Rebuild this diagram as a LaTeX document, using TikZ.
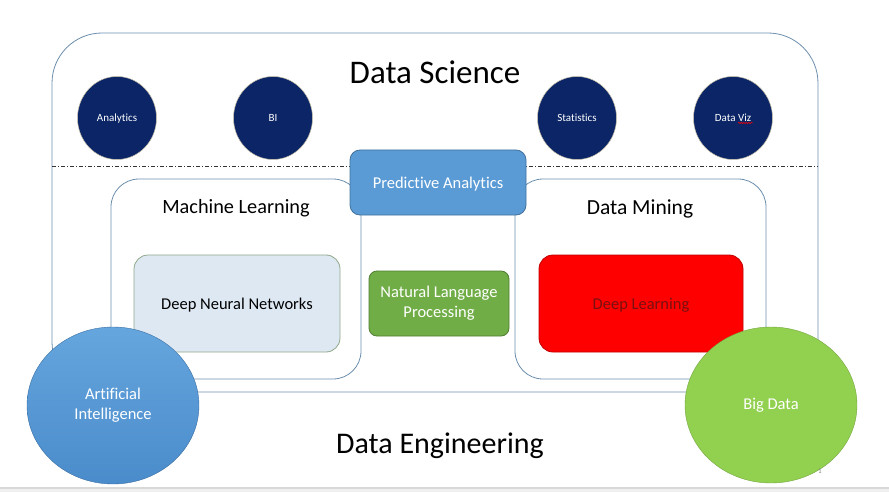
\documentclass[tikz,border=0pt]{standalone}
\usepackage{fontspec}
\setmainfont{Carlito}[Ligatures=CommonOff]
\usetikzlibrary{shapes.geometric,decorations.pathmorphing}
\definecolor{frameline}{HTML}{6C8EAD}
\definecolor{navy}     {HTML}{0B2566}
\definecolor{navyrim}  {HTML}{C8C0A6}
\definecolor{paFill}   {HTML}{5B9BD5}
\definecolor{paLine}   {HTML}{41719C}
\definecolor{nlpFill}  {HTML}{70AD47}
\definecolor{nlpLine}  {HTML}{507E32}
\definecolor{dnnFill}  {HTML}{DEE8F3}
\definecolor{dnnLine}  {HTML}{8FA88A}
\definecolor{dlFill}   {HTML}{FF0000}
\definecolor{dlLine}   {HTML}{C00000}
\definecolor{dlText}   {HTML}{7A1010}
\definecolor{aiTop}    {HTML}{65A6DE}
\definecolor{aiBot}    {HTML}{4A8BCB}
\definecolor{bigFill}  {HTML}{92D050}
\definecolor{slidegray}{HTML}{F0F0F0}
\definecolor{slideedge}{HTML}{D8D8D8}
\tikzset{
  area/.style    ={draw=frameline, line width=0.8pt, fill=none},
  subarea/.style ={area, rounded corners=28pt, minimum width=250pt, minimum height=200pt},
  title/.style   ={anchor=base, text=black},
  dot/.style     ={ellipse, draw=navyrim, line width=0.5pt, fill=navy, inner sep=0pt, text depth=0pt,
                   minimum width=79pt, minimum height=83pt, text=white, font=\fontsize{11}{13}\selectfont},
  blob/.style    ={ellipse, inner sep=0pt, minimum width=172pt, minimum height=157pt,
                   text=white, align=center, font=\fontsize{16.5}{20}\selectfont},
  tile/.style    ={rectangle, line width=0.8pt, align=center, inner sep=0pt,
                   font=\fontsize{16.5}{20}\selectfont},
  sepline/.style ={line width=0.7pt, black!80, dash pattern=on 4pt off 2pt on 1pt off 2pt},
  squig/.style   ={red, line width=0.5pt, decorate,
                   decoration={snake, amplitude=0.7pt, segment length=2.5pt}},
}
\begin{document}
\begin{tikzpicture}[x=1pt,y=-1pt]
  \useasboundingbox (0,0) rectangle (889,492);
  \fill[slidegray] (0,488) rectangle (889,492);
  \draw[slideedge, line width=1.2pt] (0,488) -- (889,488);

  \node[area, rounded corners=50pt, minimum width=766pt, minimum height=359pt] (ds) at (435,212.5) {};
  \coordinate (sepL) at (52,166);
  \coordinate (sepR) at (818,166);
  \draw[sepline] (sepL) -- (sepR);

  \node[subarea] (ml) at (236,279) {};
  \node[subarea, minimum width=251pt] (dm) at (640.5,279) {};
  \node[tile, draw=dnnLine, fill=dnnFill, rounded corners=14pt, text depth=0pt,
        minimum width=206pt, minimum height=97pt] (dnn) at (237,303.5) {Deep Neural Networks};
  \node[tile, draw=dlLine, fill=dlFill, text=dlText, rounded corners=14pt, text depth=0pt,
        minimum width=204pt, minimum height=97pt] (dl) at (641,303.5) {Deep Learning};
  \node[tile, draw=nlpLine, fill=nlpFill, text=white, rounded corners=8pt,
        minimum width=140pt, minimum height=65pt] (nlp) at (439,303.5) {Natural Language\\Processing};
  \node[tile, draw=paLine, fill=paFill, text=white, rounded corners=10pt, text depth=0pt,
        minimum width=176pt, minimum height=65pt] (pa) at (438,182.5) {Predictive Analytics};

  \node[dot] (an) at (117,118) {Analytics};
  \node[dot] (bi) at (273,118) {BI};
  \node[dot] (st) at (577,118) {Statistics};
  \node[dot] (dv) at (733,118) {Data Viz};
  \draw[squig] ([xshift=5pt,yshift=-5pt]dv.center) -- ++(15,0);

  \node[blob, draw=aiBot!80!black, line width=0.4pt, top color=aiTop, bottom color=aiBot] (ai) at (113,405.5) {Artificial\\Intelligence};
  \node[blob, draw=bigFill!80!black, line width=0.4pt, fill=bigFill, minimum height=156pt] (bd) at (771,405) {Big Data};

  \node[title, font=\fontsize{33}{36}\selectfont] (dst) at (435,84) {Data Science};
  \node[title, font=\fontsize{20.3}{24}\selectfont] (mlt) at (236,213) {Machine Learning};
  \node[title, font=\fontsize{21.5}{24}\selectfont] (dmt) at (640,214) {Data Mining};
  \node[title, font=\fontsize{30}{34}\selectfont] (det) at (440,453) {Data Engineering};
  \node[text=gray, font=\fontsize{7}{8}\selectfont] (pg) at (820,471) {1};
\end{tikzpicture}
\end{document}
